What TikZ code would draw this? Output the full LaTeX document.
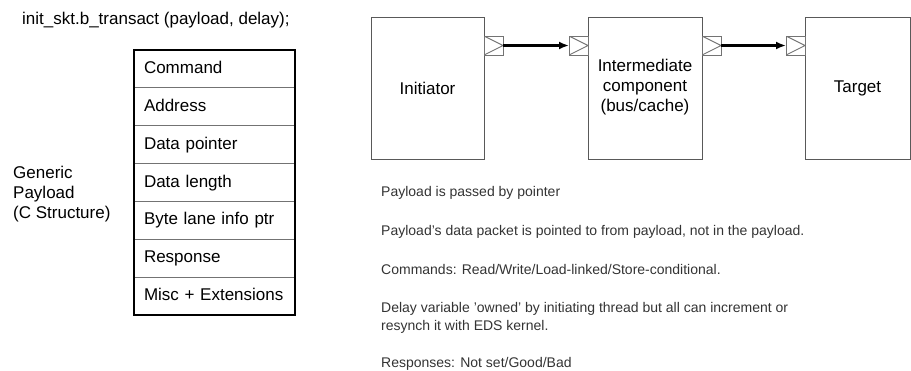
\documentclass[tikz,border=0pt]{standalone}
\usepackage{fontspec}
\setmainfont{Liberation Sans}
\usetikzlibrary{arrows.meta}
\begin{document}
\begin{tikzpicture}[x=1pt,y=-1pt,
  big/.style={font=\fontsize{17}{20}\selectfont},
  note/.style={font=\fontsize{14}{18}\selectfont, text=black!80, anchor=base west, inner sep=0pt, align=left},
  blk/.style={draw=black!65, line width=1pt, minimum height=142pt, inner sep=0pt, outer sep=0pt, align=center, big},
  port/.style={draw=black!55, line width=0.9pt, minimum width=19pt, minimum height=19pt, inner sep=0pt, outer sep=0pt,
    path picture={\draw[black!55, line width=0.9pt] (path picture bounding box.north west) -- (path picture bounding box.east) -- (path picture bounding box.south west);}},
  arr/.style={line width=2.2pt, -{Latex[length=10pt,width=8pt]}},
  row/.style={draw=black!55, line width=0.9pt, minimum width=161pt, minimum height=37.86pt, inner xsep=10pt, inner ysep=0pt, outer sep=0pt, text width=141pt, align=left, big, text height=12pt, text depth=3pt}
]
\useasboundingbox (0,0) rectangle (911,370);

% title
\node[big, anchor=base west, inner sep=0pt] (title) at (22,24) {init\_skt.b\_transact (payload, delay);};

% payload structure
\foreach \t [count=\i] in {Command, Address, Data pointer, Data length, Byte lane info ptr, Response, Misc + Extensions}
  \node[row] (r\i) at (214.5, {50+37.86*(\i-0.5)}) {\t};
\draw[line width=1.4pt] (r1.north west) rectangle (r7.south east);

\node[big, anchor=west, inner sep=0pt, align=left] (gp) at (13,194) {Generic\\Payload\\(C Structure)};

% components
\node[blk, minimum width=113pt] (ini) at (427.5,88) {Initiator};
\node[blk, minimum width=114pt, text depth=5pt] (mid) at (645,88) {Intermediate\\component\\(bus/cache)};
\node[blk, minimum width=105pt] (tgt) at (857.5,88) {Target};

\node[port, anchor=west] (p1) at (ini.east |- 0,45.5) {};
\node[port, anchor=east] (p2) at (mid.west |- 0,45.5) {};
\node[port, anchor=west] (p3) at (mid.east |- 0,45.5) {};
\node[port, anchor=east] (p4) at (tgt.west |- 0,45.5) {};

\draw[arr] (p1.east) -- (p2.west);
\draw[arr] (p3.east) -- (p4.west);

% notes
\node[note] (n1) at (381,196) {Payload is passed by pointer};
\node[note] (n2) at (381,235) {Payload's data packet is pointed to from payload, not in the payload.};
\node[note] (n3) at (381,274) {Commands: Read/Write/Load-linked/Store-conditional.};
\node[note] (n4) at (381,330) {Delay variable 'owned' by initiating thread but all can increment or\\resynch it with EDS kernel.};
\node[note] (n5) at (381,367) {Responses: Not set/Good/Bad};
\end{tikzpicture}
\end{document}
